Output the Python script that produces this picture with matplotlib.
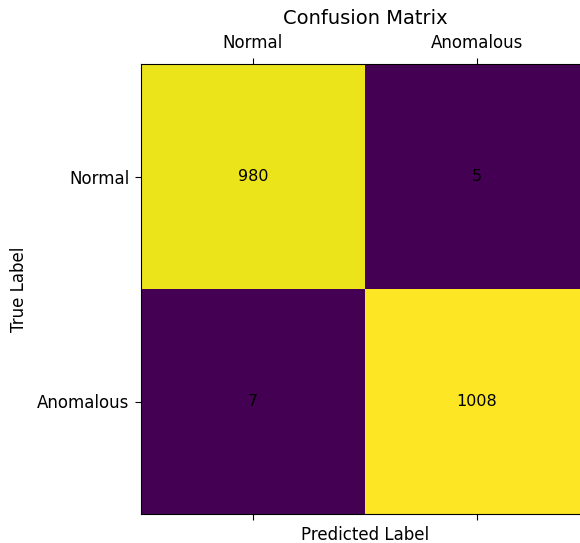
import numpy as np
import matplotlib
matplotlib.use("Agg")
import matplotlib.pyplot as plt

# confusion matrix values
class_names = ["Normal", "Anomalous"]
cm = np.array([
    [980, 5],
    [7, 1008],
])

FS = 12

fig = plt.figure(figsize=(5.8, 5.43), dpi=100)
ax = fig.add_axes([141 / 580, 29 / 543, 448 / 580, 450 / 543])

ax.matshow(cm, cmap="viridis", aspect="auto")

for i in range(cm.shape[0]):
    for j in range(cm.shape[1]):
        ax.text(j, i, str(cm[i, j]), ha="center", va="center",
                color="black", fontsize=11.5)

ax.set_xticks(range(len(class_names)))
ax.set_yticks(range(len(class_names)))
ax.set_xticklabels(class_names, fontsize=FS)
ax.set_yticklabels(class_names, fontsize=FS)
ax.tick_params(length=4.5, pad=4)
ax.tick_params(axis="x", pad=4.5)
ax.set_xlabel("Predicted Label", fontsize=FS)
ax.set_ylabel("True Label", fontsize=FS, labelpad=6.5)
ax.set_title("Confusion Matrix", fontsize=14, pad=6.5)

fig.savefig("out.png", dpi=100)
